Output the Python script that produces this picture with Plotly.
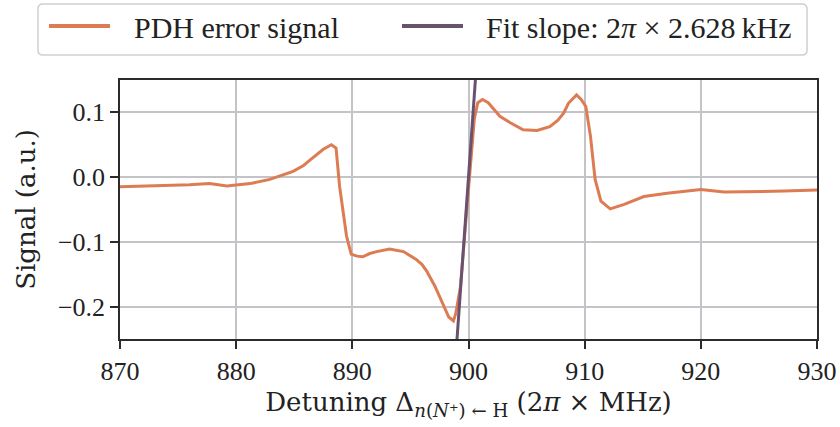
import plotly.graph_objects as go

# PDH error signal (detuning in MHz, signal in a.u.)
detuning = [870.0, 872.0, 874.0, 876.0, 877.7, 879.2, 881.2, 882.9, 884.9, 885.8, 886.4, 887.0, 887.5,
            888.2, 888.6, 888.9, 889.2, 889.5, 889.9, 890.4, 890.9, 891.5, 892.1, 893.2, 894.4, 895.5,
            896.0, 896.4, 897.1, 897.8, 898.3, 898.7, 898.9, 899.3, 899.7, 900.1, 900.5, 900.8, 901.2,
            901.7, 902.2, 902.7, 903.6, 904.7, 905.9, 907.0, 907.7, 908.2, 908.6, 909.3, 909.7, 910.1,
            910.5, 910.9, 911.4, 912.2, 913.4, 915.1, 917.1, 920.0, 922.0, 925.0, 927.2, 930.0]
signal = [-0.0148, -0.0140, -0.0132, -0.0118, -0.0100, -0.0138, -0.0100, -0.0035, 0.0090, 0.0180,
          0.0270, 0.0350, 0.0430, 0.0500, 0.0450, -0.0140, -0.0500, -0.0910, -0.1190, -0.1220,
          -0.1230, -0.1180, -0.1150, -0.1110, -0.1150, -0.1270, -0.1350, -0.1450, -0.1680, -0.1960,
          -0.2160, -0.2220, -0.2110, -0.1700, -0.0800, 0.0100, 0.0900, 0.1150, 0.1200, 0.1150,
          0.1040, 0.0940, 0.0840, 0.0730, 0.0720, 0.0780, 0.0880, 0.0990, 0.1140, 0.1270, 0.1200,
          0.1090, 0.0630, -0.0035, -0.0370, -0.0490, -0.0420, -0.0300, -0.0250, -0.0190, -0.0230,
          -0.0225, -0.0215, -0.0200]

# Linear fit around zero crossing
fit_x = [898.8, 900.8]
fit_y = [-0.3036, 0.2024]

x_ticks = [870, 880, 890, 900, 910, 920, 930]
y_ticks = [-0.2, -0.1, 0.0, 0.1]
y_ticklabels = ["\u22120.2", "\u22120.1", "0.0", "0.1"]

series_names = ["PDH error signal", "Fit slope: 2<i>\u03c0</i> \u00d7 2.628\u2009kHz"]
series_colors = ["#dd7b53", "#68526f"]

FONT = "Liberation Serif"
TFONT = "DejaVu Serif"
TXT = "#222222"
W, H = 840, 427
ML, MR, MT, MB = 120, 23, 80, 88
PW, PH = W - ML - MR, H - MT - MB

fig = go.Figure()
fig.add_trace(go.Scatter(x=detuning, y=signal, mode="lines", name=series_names[0],
                         line=dict(color=series_colors[0], width=3)))
fig.add_trace(go.Scatter(x=fit_x, y=fit_y, mode="lines", name=series_names[1],
                         line=dict(color=series_colors[1], width=3)))

axis_common = dict(showline=True, linecolor="#2b2b2b", linewidth=1.5, mirror=True,
                   showgrid=True, gridcolor="#c4c4c8", gridwidth=1.5,
                   ticks="outside", ticklen=8, tickwidth=1.5, tickcolor="#2b2b2b",
                   zeroline=False, automargin=False,
                   tickfont=dict(family=FONT, size=26, color=TXT))

fig.update_xaxes(range=[870, 930], tickvals=x_ticks, **axis_common,
                 title=dict(text="Detuning \u0394<sub><i>n</i>(<i>N</i>\u207a) \u2190 H</sub> (2<i>\u03c0</i> \u00d7 MHz)",
                            font=dict(family=TFONT, size=26, color=TXT), standoff=8))
fig.update_yaxes(range=[-0.25, 0.15], tickvals=y_ticks, ticktext=y_ticklabels, **axis_common,
                 title=dict(text="Signal (a.u.)", font=dict(family=TFONT, size=26, color=TXT),
                            standoff=15))


def pxx(px):
    return (px - ML) / PW


def pxy(py):
    return (H - MB - py) / PH


# rounded legend frame
x0, y0, x1, y1 = pxx(38), pxy(55), pxx(807), pxy(4)
rx, ry = 5 / PW, 5 / PH
path = (f"M {x0+rx},{y0} L {x1-rx},{y0} Q {x1},{y0} {x1},{y0+ry} L {x1},{y1-ry} "
        f"Q {x1},{y1} {x1-rx},{y1} L {x0+rx},{y1} Q {x0},{y1} {x0},{y1-ry} "
        f"L {x0},{y0+ry} Q {x0},{y0} {x0+rx},{y0} Z")
fig.add_shape(type="path", xref="paper", yref="paper", path=path,
              line=dict(color="#d0d0d0", width=1.5), fillcolor="white", layer="below")

# legend entries: handle line + label
handle_x = [(49, 110), (402, 463)]
label_x = [133, 485]
for (hx0, hx1), lx, name, col in zip(handle_x, label_x, series_names, series_colors):
    fig.add_shape(type="line", xref="paper", yref="paper", x0=pxx(hx0), x1=pxx(hx1),
                  y0=pxy(26), y1=pxy(26), line=dict(color=col, width=4))
    fig.add_annotation(xref="paper", yref="paper", x=pxx(lx), y=pxy(28), xanchor="left",
                       yanchor="middle", text=name, showarrow=False, borderpad=0,
                       font=dict(family=FONT, size=30, color=TXT))

fig.update_layout(
    width=W, height=H,
    margin=dict(l=ML, r=MR, t=MT, b=MB),
    plot_bgcolor="white", paper_bgcolor="white",
    font=dict(family=FONT, size=26, color=TXT),
    showlegend=False,
)

fig.write_html("out.html", config={"displayModeBar": False},
               post_script="document.body.style.margin='0';")
